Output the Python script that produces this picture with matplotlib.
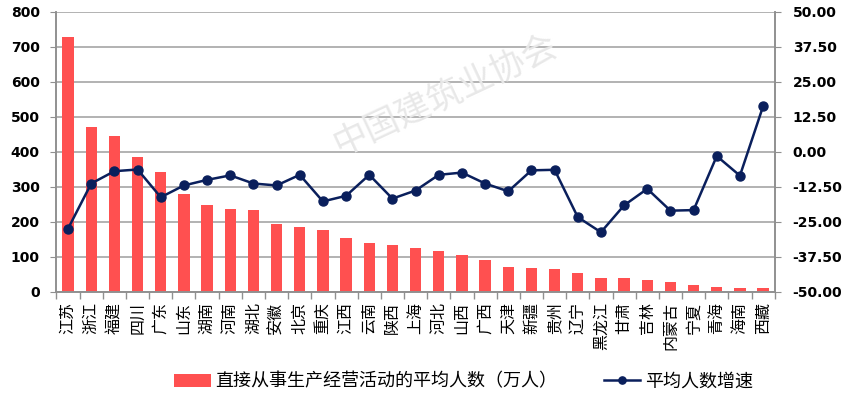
import matplotlib
matplotlib.use("Agg")
import matplotlib.pyplot as plt
import numpy as np
from matplotlib.ticker import FixedLocator

plt.rcParams['font.family'] = ['Noto Sans CJK SC', 'DejaVu Sans']

provinces = ["江苏", "浙江", "福建", "四川", "广东", "山东", "湖南", "河南", "湖北", "安徽",
             "北京", "重庆", "江西", "云南", "陕西", "上海", "河北", "山西", "广西", "天津",
             "新疆", "贵州", "辽宁", "黑龙江", "甘肃", "吉林", "内蒙古", "宁夏", "青海", "海南", "西藏"]
workers = [728, 471, 446, 386, 342, 279, 249, 238, 234, 193,
           186, 178, 153, 140, 134, 126, 118, 105, 90, 71,
           67, 65, 54, 39, 39, 34, 27, 19, 14, 11, 11]
growth = [-27.4, -11.3, -6.9, -6.3, -16.2, -12.0, -10.0, -8.4, -11.3, -12.0,
          -8.2, -17.7, -15.7, -8.2, -16.7, -13.8, -8.2, -7.4, -11.3, -14.1,
          -6.6, -6.4, -23.3, -28.7, -19.1, -13.2, -21.0, -20.8, -1.5, -8.5, 16.3]
left_ticks = [0, 100, 200, 300, 400, 500, 600, 700, 800]
right_ticks = [-50, -37.5, -25, -12.5, 0, 12.5, 25, 37.5, 50]
bar_label = "直接从事生产经营活动的平均人数（万人）"
line_label = "平均人数增速"

fig = plt.figure(figsize=(8.56, 3.96), dpi=100)
ax = fig.add_axes([0.066, 0.263, 0.839, 0.707])
ax2 = ax.twinx()

x = np.arange(len(provinces))
ax.bar(x, workers, width=0.49, color='#FF5050', zorder=2, label=bar_label)
ax2.plot(x, growth, color='#0A1F5C', lw=1.8, marker='o', ms=6.5, zorder=3, label=line_label)

ax.set_xlim(-0.5, len(provinces) - 0.5)
ax.set_ylim(0, 800)
ax2.set_ylim(-50, 50)
ax.set_yticks(left_ticks)
ax2.set_yticks(right_ticks)
ax2.set_yticklabels([f"{v:.2f}" for v in right_ticks])
ax.grid(axis='y', color='#A6A6A6', lw=1.2, zorder=0)
ax.set_axisbelow(True)

ax.set_xticks(x)
ax.set_xticklabels(provinces, rotation=90, fontsize=11.5,
                   family=['Noto Sans CJK SC', 'DejaVu Sans'])
ax.tick_params(axis='x', which='major', length=0, pad=7)
ax.xaxis.set_minor_locator(FixedLocator(np.arange(-0.5, len(provinces), 1)))
ax.tick_params(axis='x', which='minor', length=5, color='#909090', width=1)

for a in (ax, ax2):
    for s in a.spines.values():
        s.set_color('#909090')
        s.set_linewidth(1.2)
    a.spines['top'].set_visible(False)

ax.tick_params(axis='y', length=4, color='#909090', labelsize=10, pad=8)
ax2.tick_params(axis='y', length=4, color='#909090', labelsize=10, pad=9)
for lab in ax.get_yticklabels() + ax2.get_yticklabels():
    lab.set_fontfamily(['DejaVu Sans'])
    lab.set_fontweight('bold')

# watermark
fig.text(0.52, 0.76, "中国建筑业协会", fontsize=25, color='#E8E8E8', rotation=25,
         ha='center', va='center', zorder=0)

h1, l1 = ax.get_legend_handles_labels()
h2, l2 = ax2.get_legend_handles_labels()
fig.legend(h1 + h2, l1 + l2, loc='center', bbox_to_anchor=(0.5415, 0.036), ncol=2,
           frameon=False, fontsize=13, handlelength=2.0, handleheight=0.7,
           columnspacing=2.6, handletextpad=0.25, borderpad=0.0, markerscale=0.8)

fig.savefig("out.png", dpi=100)
